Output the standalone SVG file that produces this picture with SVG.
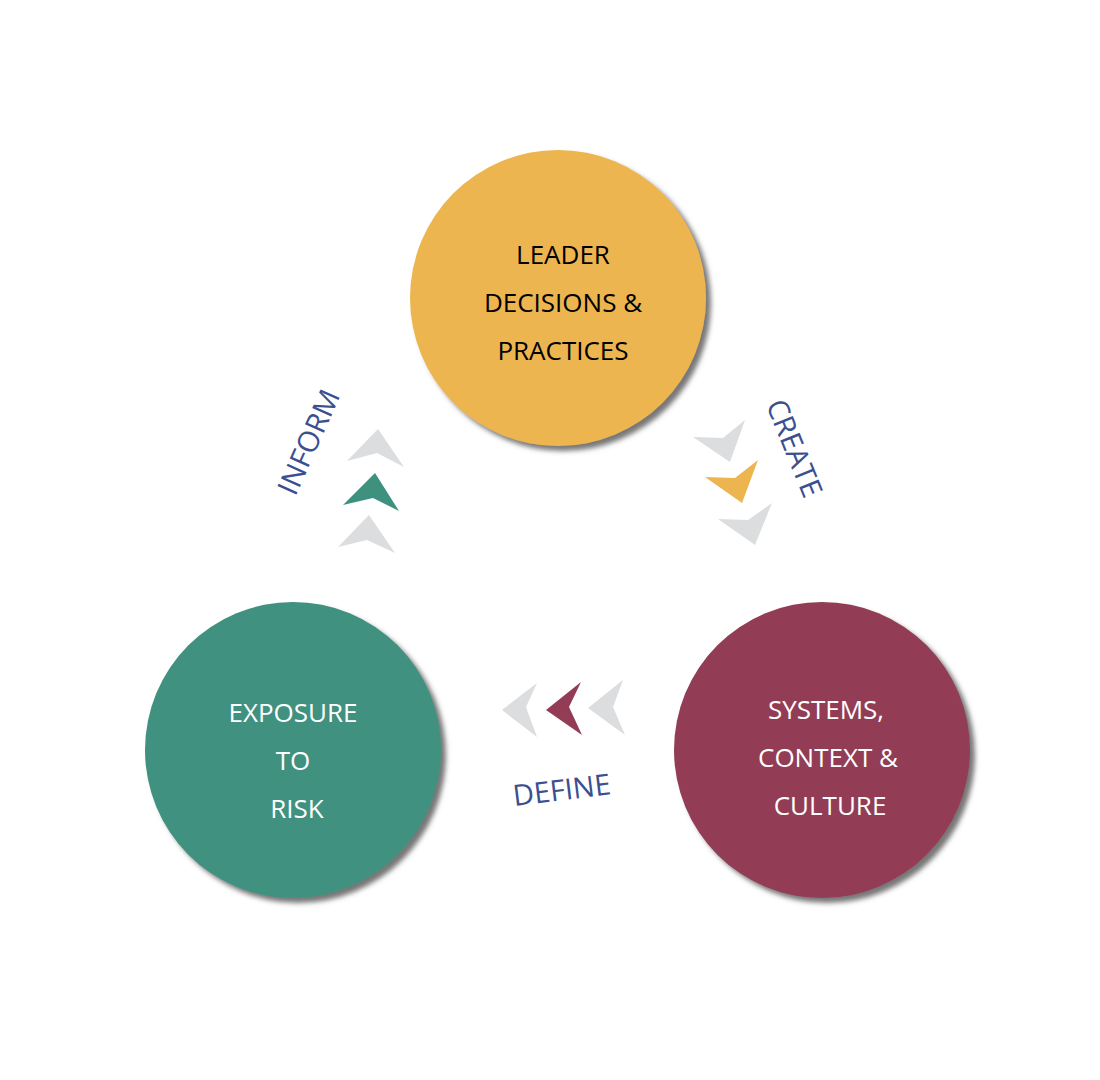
<svg xmlns="http://www.w3.org/2000/svg" width="1100" height="1080" viewBox="0 0 1100 1080">
<defs>
<filter id="sh" x="-20%" y="-20%" width="140%" height="140%">
<feGaussianBlur in="SourceAlpha" stdDeviation="2.5"/>
<feOffset dx="5" dy="5" result="b"/>
<feFlood flood-color="#555" flood-opacity="0.8"/>
<feComposite in2="b" operator="in"/>
<feMerge><feMergeNode/><feMergeNode in="SourceGraphic"/></feMerge>
</filter>
<style>
.t{font-family:"Open Sans","Liberation Sans",sans-serif;font-size:26px;text-anchor:middle}
.l{font-family:"Open Sans","Liberation Sans",sans-serif;font-size:29px;fill:#3B4F91;text-anchor:middle}
.g{fill:#DCDDDE}
</style>
</defs>
<rect width="1100" height="1080" fill="#fff"/>
<g id="leader">
<circle cx="558" cy="298" r="148" fill="#EDB54F" filter="url(#sh)"/>
<text class="t" fill="#000"><tspan x="563" y="264">LEADER</tspan><tspan x="563" y="312">DECISIONS &amp;</tspan><tspan x="563" y="360">PRACTICES</tspan></text>
</g>
<g id="exposure">
<circle cx="293" cy="750" r="148" fill="#3F917F" filter="url(#sh)"/>
<text class="t" fill="#fff"><tspan x="293" y="722">EXPOSURE</tspan><tspan x="293" y="770">TO</tspan><tspan x="297" y="818">RISK</tspan></text>
</g>
<g id="systems">
<circle cx="822" cy="750" r="148" fill="#923D55" filter="url(#sh)"/>
<text class="t" fill="#fff"><tspan x="826" y="719">SYSTEMS,</tspan><tspan x="828" y="767">CONTEXT &amp;</tspan><tspan x="830" y="815">CULTURE</tspan></text>
</g>
<g id="connectors">
<polygon class="g" points="378,429 404,467 377,453 347,461"/>
<polygon fill="#3F917F" points="375,473 399,511 373,498 343,505"/>
<polygon class="g" points="369,515 395,553 367,540 338,547"/>
<text class="l" transform="translate(318,446) rotate(-66)">INFORM</text>
<polygon class="g" points="693,437 723,438 745,420 730,462"/>
<polygon fill="#EDB54F" points="705,477 735,478 758,460 742,503"/>
<polygon class="g" points="718,519 748,520 772,503 755,545"/>
<text class="l" transform="translate(785,452) rotate(68)">CREATE</text>
<polygon class="g" points="502,710 537,683 526,707 537,737"/>
<polygon fill="#923D55" points="546,710 581,682 569,707 582,735"/>
<polygon class="g" points="588,708 623,680 613,707 625,735"/>
<text class="l" transform="translate(563,800) rotate(-7)">DEFINE</text>
</g>
</svg>
